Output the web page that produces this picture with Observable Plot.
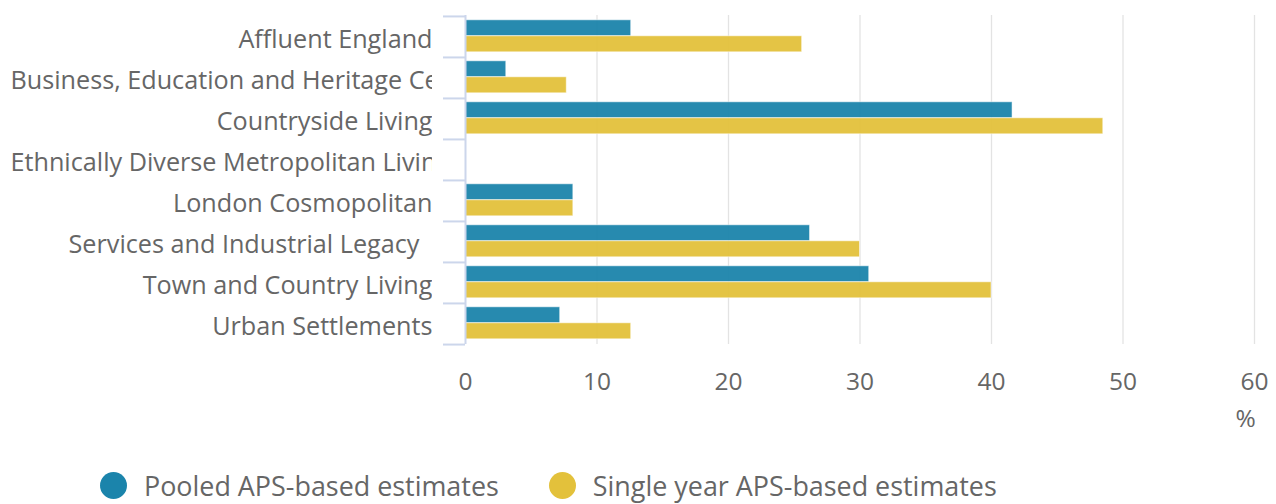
<!DOCTYPE html>
<html>
<head>
<meta charset="utf-8">
<script src="https://cdn.jsdelivr.net/npm/d3@7"></script>
<script src="https://cdn.jsdelivr.net/npm/@observablehq/plot@0.6"></script>
<style>
  body { margin: 0; background: #fff; font-family: "Open Sans", sans-serif; }
  #chart svg { display: block; }
  #legend { height: 54px; width: 1276px; display: flex; align-items: center; padding-left: 100px; box-sizing: border-box; padding-top: 17px; }
  .item { display: flex; align-items: center; font-size: 26.9px; color: #666; white-space: nowrap; margin-right: 50px; }
  .sw { width: 27px; height: 27px; border-radius: 50%; margin-right: 17px; flex: none; }
</style>
</head>
<body>
<div id="chart"></div>
<div id="legend"></div>
<script>
// ---- data ----
const categories = [
  "Affluent England",
  "Business, Education and Heritage Centres",
  "Countryside Living",
  "Ethnically Diverse Metropolitan Living",
  "London Cosmopolitan",
  "Services and Industrial Legacy\u00a0\u00a0",
  "Town and Country Living",
  "Urban Settlements"
];
const pooled     = [12.6, 3.1, 41.6, null, 8.2, 26.2, 30.7, 7.2];
const singleYear = [25.6, 7.7, 48.5, null, 8.2, 30.0, 40.0, 12.6];
const seriesNames = ["Pooled APS-based estimates", "Single year APS-based estimates"];
const seriesColors = ["#1b84ab", "#e3c13b"];
const xTicks = [0, 10, 20, 30, 40, 50, 60];
const xUnit = "%";

// ---- layout ----
const W = 1276, H = 450, mL = 465, mR = 22, mT = 15, mB = 106;
const step = (H - mT - mB) / categories.length;
const labelSize = 25.2;
const labelFont = `${labelSize}px "Open Sans"`;
const labelRight = 432, labelLeft = 10;

const rows = categories.flatMap((c, i) => [
  {category: c, series: seriesNames[0], value: pooled[i]},
  {category: c, series: seriesNames[1], value: singleYear[i]}
]).filter(d => d.value != null);

// decide which labels overflow the available width
const ctx = document.createElement("canvas").getContext("2d");
ctx.font = labelFont;
const isLong = c => ctx.measureText(c).width > (labelRight - labelLeft);
const shortLabels = categories.filter(c => !isLong(c));
const longLabels = categories.filter(c => isLong(c));

const axisColor = "#ccd6eb";
const barStyle = {stroke: "#fff", strokeOpacity: 0.5, strokeWidth: 1, fillOpacity: 0.95};

const chart = Plot.plot({
  width: W, height: H,
  marginLeft: mL, marginRight: mR, marginTop: mT, marginBottom: mB,
  style: {fontFamily: '"Open Sans", sans-serif', fontSize: "24.5px", color: "#666", background: "#fff", overflow: "visible"},
  x: {domain: [0, 60], ticks: xTicks, tickSize: 0, tickPadding: 28, label: null},
  y: {domain: categories, padding: 0, axis: null},
  color: {domain: seriesNames, range: seriesColors},
  marks: [
    Plot.ruleX(xTicks.filter(t => t > 0), {stroke: "#e3e3e3", strokeWidth: 1.3}),
    Plot.barX(rows.filter(d => d.series === seriesNames[0]), {
      x: "value", y: "category", fill: "series",
      insetTop: 3.8, insetBottom: step - 19.8, ...barStyle
    }),
    Plot.barX(rows.filter(d => d.series === seriesNames[1]), {
      x: "value", y: "category", fill: "series",
      insetTop: 19.8, insetBottom: 5.2, ...barStyle
    }),
    Plot.ruleX([0], {stroke: axisColor, strokeWidth: 2}),
    Plot.ruleY(categories, {y: d => d, x1: 0, x2: 0, insetLeft: -22, dy: -step / 2, stroke: axisColor, strokeWidth: 2}),
    Plot.ruleY([categories[categories.length - 1]], {y: d => d, x1: 0, x2: 0, insetLeft: -22, dy: step / 2, stroke: axisColor, strokeWidth: 2}),
    Plot.text(shortLabels, {y: d => d, text: d => d, frameAnchor: "left", textAnchor: "end", dx: labelRight - mL, dy: 3, fill: "#666", fontSize: labelSize}),
    Plot.text(longLabels, {y: d => d, text: d => d, frameAnchor: "left", textAnchor: "start", dx: labelLeft - mL, dy: 3, fill: "#666", fontSize: labelSize}),
    Plot.text([xUnit], {text: d => d, frameAnchor: "bottom-right", dx: -9, dy: 82, textAnchor: "middle", fill: "#666"})
  ]
});

// clip the y-axis labels to the label area (long labels are cut off)
const svgNode = chart.tagName.toLowerCase() === "svg" ? chart : chart.querySelector("svg");
const svg = d3.select(svgNode);
const clipId = "ylabel-clip";
svg.append("defs").append("clipPath").attr("id", clipId)
  .append("rect").attr("x", 0).attr("y", 0).attr("width", labelRight).attr("height", H);
const textGroups = svg.selectAll('g[aria-label="text"]').nodes();
textGroups.slice(0, 2).forEach(g => {
  const wrap = document.createElementNS("http://www.w3.org/2000/svg", "g");
  wrap.setAttribute("clip-path", `url(#${clipId})`);
  g.parentNode.insertBefore(wrap, g);
  wrap.appendChild(g);
});

document.getElementById("chart").appendChild(chart);

// ---- legend ----
const legend = d3.select("#legend");
seriesNames.forEach((name, i) => {
  const item = legend.append("div").attr("class", "item");
  item.append("div").attr("class", "sw").style("background", seriesColors[i]);
  item.append("span").text(name);
});
</script>
</body>
</html>
